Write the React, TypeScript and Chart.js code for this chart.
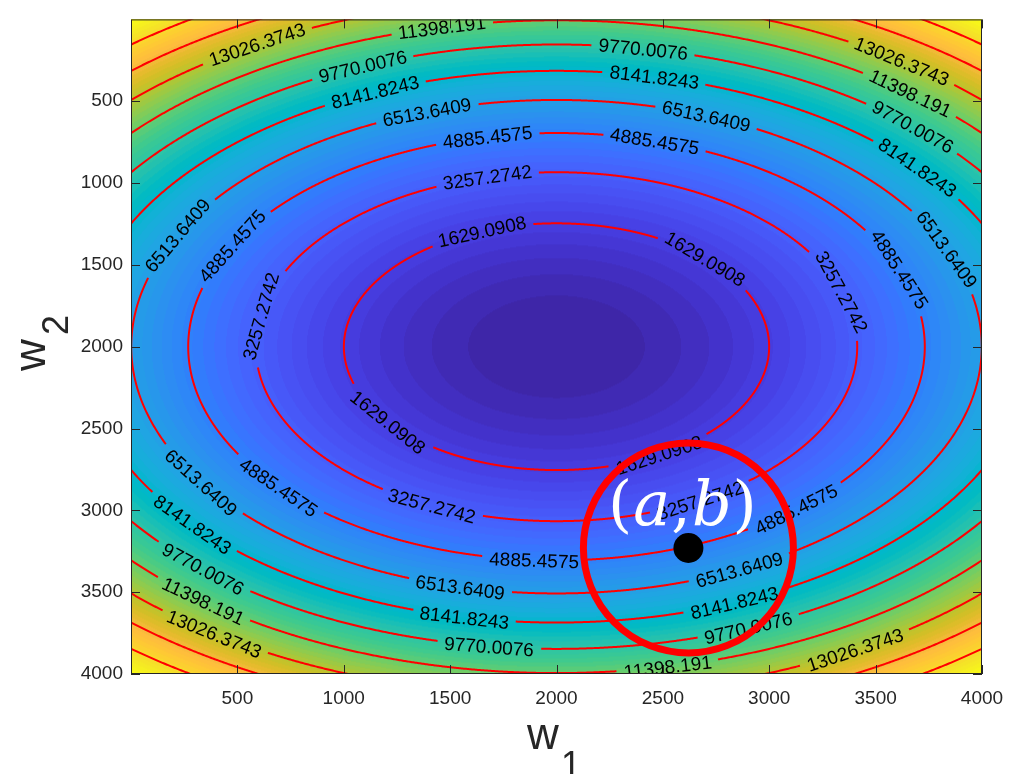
import { useEffect, useRef } from "react";
import { Chart, registerables } from "chart.js";

Chart.register(...registerables);

// Quadratic cost surface  J(w1, w2) = J_MIN + K1·(w1 − W1_OPT)² + K2·(w2 − W2_OPT)²
const W1_OPT = 2000;
const W2_OPT = 2000;
const J_MIN = 0.9074;
const K1 = 0.00163;
const K2 = 0.002865;

// Axis ranges and ticks
const W1_RANGE = [0, 4000];
const W2_RANGE = [0, 4000];
const W1_TICKS = [500, 1000, 1500, 2000, 2500, 3000, 3500, 4000];
const W2_TICKS = [500, 1000, 1500, 2000, 2500, 3000, 3500, 4000];

// Contour levels (red iso-lines)
const LEVELS = [
  1629.0908, 3257.2742, 4885.4575, 6513.6409, 8141.8243, 9770.0076, 11398.191,
  13026.3743, 14654.5577, 16282.741,
];

// The highlighted point (a, b)
const POINT_AB = [2620, 3230];

// Where each level's inline labels sit (w1, w2), one list per level
const LABEL_SPOTS: number[][][] = [
  [[1654, 1317], [2684, 1497], [1226, 2432], [2472, 2624]],
  [[1677, 987], [3324, 1677], [643, 1827], [1414, 2966], [2675, 2936]],
  [[1677, 724], [2463, 748], [473, 1383], [3601, 1539], [722, 2804], [1898, 3146], [3098, 2924]],
  [[1390, 574], [2703, 598], [233, 1335], [3827, 1413], [337, 2822], [1546, 3469], [2863, 3373]],
  [[1151, 454], [2458, 358], [3695, 909], [290, 3086], [1569, 3613], [2839, 3571]],
  [[1089, 298], [2406, 184], [3672, 658], [346, 3343], [1687, 3793], [2900, 3715]],
  [[1461, 46], [3662, 454], [346, 3541], [2524, 3973]],
  [[595, 160], [3620, 256], [393, 3745], [3404, 3853]],
  [],
  [],
];

// parula, 64 entries
const PARULA = [
  [0.2422, 0.1504, 0.6603], [0.2504, 0.165, 0.7076], [0.2578, 0.1818, 0.7511], [0.2647, 0.1978, 0.7952],
  [0.2706, 0.2147, 0.8364], [0.2751, 0.2342, 0.871], [0.2783, 0.2559, 0.8991], [0.2803, 0.2782, 0.9221],
  [0.2813, 0.3006, 0.9414], [0.281, 0.3228, 0.9579], [0.2795, 0.3447, 0.9717], [0.276, 0.3667, 0.9829],
  [0.2699, 0.3892, 0.9906], [0.2602, 0.4123, 0.9952], [0.244, 0.4358, 0.9988], [0.2206, 0.4603, 0.9973],
  [0.1963, 0.4847, 0.9892], [0.1834, 0.5074, 0.9798], [0.1786, 0.5289, 0.9682], [0.1764, 0.5499, 0.952],
  [0.1687, 0.5703, 0.9359], [0.154, 0.5902, 0.9218], [0.146, 0.6091, 0.9079], [0.138, 0.6276, 0.8973],
  [0.1248, 0.6459, 0.8883], [0.1113, 0.6635, 0.8763], [0.0952, 0.6798, 0.8598], [0.0689, 0.6948, 0.8394],
  [0.0297, 0.7082, 0.8163], [0.0036, 0.7203, 0.7917], [0.0067, 0.7312, 0.766], [0.0433, 0.7411, 0.7394],
  [0.0964, 0.75, 0.712], [0.1408, 0.7584, 0.6842], [0.1717, 0.767, 0.6554], [0.1938, 0.7758, 0.6251],
  [0.2161, 0.7843, 0.5923], [0.247, 0.7918, 0.5567], [0.2906, 0.7973, 0.5188], [0.3406, 0.8008, 0.4789],
  [0.3909, 0.8029, 0.4354], [0.4456, 0.8024, 0.3909], [0.5044, 0.7993, 0.348], [0.5616, 0.7942, 0.3045],
  [0.6174, 0.7876, 0.2612], [0.672, 0.7793, 0.2227], [0.7242, 0.7698, 0.191], [0.7738, 0.7598, 0.1646],
  [0.8203, 0.7498, 0.1535], [0.8634, 0.7406, 0.1596], [0.9035, 0.733, 0.1774], [0.9393, 0.7288, 0.21],
  [0.9728, 0.7298, 0.2394], [0.9956, 0.7434, 0.2371], [0.997, 0.7659, 0.2199], [0.9952, 0.7893, 0.2028],
  [0.9892, 0.8136, 0.1885], [0.9786, 0.8386, 0.1766], [0.9676, 0.8639, 0.1643], [0.961, 0.889, 0.1537],
  [0.9597, 0.9135, 0.1423], [0.9628, 0.9373, 0.1265], [0.9691, 0.9606, 0.1064], [0.9769, 0.9839, 0.0805],
];

const SANS = '"Liberation Sans", Arial, Helvetica, sans-serif';
const AXIS_INK = "#262626";
const LABEL_PX = 19;
const TICK_LEN = 9;

const costAt = (w1: number, w2: number) =>
  J_MIN + K1 * (w1 - W1_OPT) ** 2 + K2 * (w2 - W2_OPT) ** 2;

// Filled colour map plus labelled contour lines, painted under the datasets
const surfacePlugin = {
  id: "costSurface",
  beforeDatasetsDraw(chart: any) {
    const { ctx, chartArea: a } = chart;
    const xs = chart.scales.x;
    const ys = chart.scales.y;
    const w = Math.round(a.right - a.left);
    const h = Math.round(a.bottom - a.top);

    const zMin = J_MIN;
    const zMax = Math.max(
      costAt(W1_RANGE[0], W2_RANGE[0]),
      costAt(W1_RANGE[1], W2_RANGE[0]),
      costAt(W1_RANGE[0], W2_RANGE[1]),
      costAt(W1_RANGE[1], W2_RANGE[1])
    );
    const nColors = PARULA.length;

    const off = document.createElement("canvas");
    off.width = w;
    off.height = h;
    const octx = off.getContext("2d")!;
    const img = octx.createImageData(w, h);
    const colVals = new Float64Array(w);
    const rowVals = new Float64Array(h);
    for (let i = 0; i < w; i++) colVals[i] = xs.getValueForPixel(a.left + i + 0.5);
    for (let j = 0; j < h; j++) rowVals[j] = ys.getValueForPixel(a.top + j + 0.5);
    for (let j = 0; j < h; j++) {
      for (let i = 0; i < w; i++) {
        const f = costAt(colVals[i], rowVals[j]);
        let k = Math.floor(((f - zMin) / (zMax - zMin)) * nColors);
        k = Math.max(0, Math.min(nColors - 1, k));
        const c = PARULA[k];
        const p = (j * w + i) * 4;
        img.data[p] = Math.round(c[0] * 255);
        img.data[p + 1] = Math.round(c[1] * 255);
        img.data[p + 2] = Math.round(c[2] * 255);
        img.data[p + 3] = 255;
      }
    }
    octx.putImageData(img, 0, 0);
    ctx.drawImage(off, a.left, a.top);

    // contour lines with inline labels
    ctx.save();
    ctx.beginPath();
    ctx.rect(a.left, a.top, a.right - a.left, a.bottom - a.top);
    ctx.clip();
    ctx.font = `${LABEL_PX}px ${SANS}`;
    const N = 3000;
    LEVELS.forEach((level, li) => {
      const rx = Math.sqrt((level - J_MIN) / K1);
      const ry = Math.sqrt((level - J_MIN) / K2);
      const px: number[] = [];
      const py: number[] = [];
      for (let i = 0; i <= N; i++) {
        const t = (2 * Math.PI * i) / N;
        px.push(xs.getPixelForValue(W1_OPT + rx * Math.cos(t)));
        py.push(ys.getPixelForValue(W2_OPT + ry * Math.sin(t)));
      }
      const cum = [0];
      for (let i = 1; i <= N; i++) {
        cum.push(cum[i - 1] + Math.hypot(px[i] - px[i - 1], py[i] - py[i - 1]));
      }
      const L = cum[N];
      const pointAt = (s: number) => {
        s = ((s % L) + L) % L;
        let lo = 0;
        let hi = N;
        while (hi - lo > 1) {
          const m = (lo + hi) >> 1;
          if (cum[m] <= s) lo = m;
          else hi = m;
        }
        const seg = cum[lo + 1] - cum[lo] || 1;
        const u = (s - cum[lo]) / seg;
        return { x: px[lo] + (px[lo + 1] - px[lo]) * u, y: py[lo] + (py[lo + 1] - py[lo]) * u };
      };
      const text = String(level);
      const tw = ctx.measureText(text).width;
      const labels = (LABEL_SPOTS[li] || []).map(([u, v]) => {
        const ax = xs.getPixelForValue(u);
        const ay = ys.getPixelForValue(v);
        let best = 0;
        let bd = Infinity;
        for (let i = 0; i < N; i++) {
          const d = (px[i] - ax) ** 2 + (py[i] - ay) ** 2;
          if (d < bd) {
            bd = d;
            best = i;
          }
        }
        return { s: cum[best], h: tw / 2 + 7 };
      });
      const circDist = (s1: number, s2: number) => {
        const d = Math.abs(s1 - s2) % L;
        return Math.min(d, L - d);
      };

      ctx.strokeStyle = "#ff0000";
      ctx.lineWidth = 2;
      ctx.lineJoin = "round";
      ctx.beginPath();
      let pen = false;
      for (let i = 0; i < N; i++) {
        const mid = (cum[i] + cum[i + 1]) / 2;
        if (labels.some((l) => circDist(mid, l.s) < l.h)) {
          pen = false;
          continue;
        }
        if (!pen) {
          ctx.moveTo(px[i], py[i]);
          pen = true;
        }
        ctx.lineTo(px[i + 1], py[i + 1]);
      }
      ctx.stroke();

      ctx.fillStyle = "#000000";
      ctx.textAlign = "center";
      ctx.textBaseline = "alphabetic";
      labels.forEach((l) => {
        const p = pointAt(l.s);
        const p0 = pointAt(l.s - l.h);
        const p1 = pointAt(l.s + l.h);
        let ang = Math.atan2(p1.y - p0.y, p1.x - p0.x);
        if (ang > Math.PI / 2) ang -= Math.PI;
        if (ang < -Math.PI / 2) ang += Math.PI;
        ctx.save();
        ctx.translate(p.x, p.y);
        ctx.rotate(ang);
        ctx.fillText(text, 0, LABEL_PX * 0.36);
        ctx.restore();
      });
    });
    ctx.restore();
  },
};

// "(a,b)" annotation above the marked point
const pointLabelPlugin = {
  id: "pointLabel",
  afterDatasetsDraw(chart: any) {
    const { ctx } = chart;
    const cx = chart.scales.x.getPixelForValue(POINT_AB[0]);
    const cy = chart.scales.y.getPixelForValue(POINT_AB[1]);
    const size = 62;
    const parts: [string, boolean][] = [["(", false], ["a", true], [",", false], ["b", true], [")", false]];
    const fontOf = (it: boolean) => `${it ? "italic " : ""}${size}px "DejaVu Serif", "Liberation Serif", serif`;
    ctx.save();
    ctx.fillStyle = "#ffffff";
    ctx.textBaseline = "alphabetic";
    ctx.textAlign = "left";
    const gap = 1;
    let total = 0;
    const widths = parts.map(([t, it]) => {
      ctx.font = fontOf(it);
      const wd = ctx.measureText(t).width + gap;
      total += wd;
      return wd;
    });
    total -= gap;
    let x = cx - 6 - total / 2;
    const base = cy - 23;
    parts.forEach(([t, it], i) => {
      ctx.font = fontOf(it);
      ctx.fillText(t, x, base);
      x += widths[i];
    });
    ctx.restore();
  },
};

// Axes box, inward ticks on all four sides, and the axis titles
const framePlugin = {
  id: "frame",
  afterDraw(chart: any) {
    const { ctx, chartArea: a } = chart;
    const xs = chart.scales.x;
    const ys = chart.scales.y;
    ctx.save();
    ctx.strokeStyle = AXIS_INK;
    ctx.lineWidth = 1;
    ctx.strokeRect(a.left + 0.5, a.top + 0.5, a.right - a.left - 1, a.bottom - a.top - 1);
    ctx.beginPath();
    W1_TICKS.forEach((v) => {
      const x = Math.round(xs.getPixelForValue(v)) + 0.5;
      ctx.moveTo(x, a.bottom);
      ctx.lineTo(x, a.bottom - TICK_LEN);
      ctx.moveTo(x, a.top);
      ctx.lineTo(x, a.top + TICK_LEN);
    });
    W2_TICKS.forEach((v) => {
      const y = Math.round(ys.getPixelForValue(v)) + 0.5;
      ctx.moveTo(a.left, y);
      ctx.lineTo(a.left + TICK_LEN, y);
      ctx.moveTo(a.right, y);
      ctx.lineTo(a.right - TICK_LEN, y);
    });
    ctx.stroke();

    ctx.fillStyle = AXIS_INK;
    ctx.textAlign = "left";
    ctx.textBaseline = "alphabetic";
    // w_1 under the x axis
    ctx.font = `44px ${SANS}`;
    ctx.fillText("w", 527, 749);
    ctx.font = `36px ${SANS}`;
    ctx.fillText("1", 561, 777);
    // w_2 beside the y axis, reading upwards
    ctx.translate(45, 371);
    ctx.rotate(-Math.PI / 2);
    ctx.font = `44px ${SANS}`;
    ctx.fillText("w", 0, 0);
    ctx.font = `36px ${SANS}`;
    ctx.fillText("2", 36, 23);
    ctx.restore();
  },
};

export default function App() {
  const ref = useRef<HTMLCanvasElement>(null);

  useEffect(() => {
    const tickFont = { family: SANS, size: LABEL_PX };
    const chart = new Chart(ref.current!, {
      type: "scatter",
      data: {
        datasets: [
          {
            data: [{ x: POINT_AB[0], y: POINT_AB[1] }],
            pointRadius: 15,
            pointHoverRadius: 15,
            pointBackgroundColor: "#000000",
            pointBorderColor: "#000000",
            pointBorderWidth: 0,
          },
          {
            data: [{ x: POINT_AB[0], y: POINT_AB[1] }],
            pointRadius: 105,
            pointHoverRadius: 105,
            pointBackgroundColor: "rgba(0,0,0,0)",
            pointBorderColor: "#ff0000",
            pointBorderWidth: 7,
            pointHoverBorderWidth: 7,
          },
        ],
      },
      options: {
        animation: false,
        responsive: false,
        events: [],
        layout: { autoPadding: false, padding: { left: 0, top: 7, right: 43, bottom: 0 } },
        plugins: { legend: { display: false }, tooltip: { enabled: false } },
        scales: {
          x: {
            type: "linear",
            min: W1_RANGE[0],
            max: W1_RANGE[1],
            grid: { display: false, drawTicks: false },
            border: { display: false },
            ticks: {
              color: AXIS_INK,
              font: tickFont,
              padding: 13,
              maxRotation: 0,
              autoSkip: false,
              callback: (v: any) => String(v),
            },
            afterBuildTicks: (s: any) => {
              s.ticks = W1_TICKS.map((v) => ({ value: v }));
            },
            afterFit: (s: any) => {
              s.height = 100;
            },
          },
          y: {
            type: "linear",
            reverse: true,
            min: W2_RANGE[0],
            max: W2_RANGE[1],
            grid: { display: false, drawTicks: false },
            border: { display: false },
            ticks: {
              color: AXIS_INK,
              font: tickFont,
              padding: 8,
              autoSkip: false,
              callback: (v: any) => String(v),
            },
            afterBuildTicks: (s: any) => {
              s.ticks = W2_TICKS.map((v) => ({ value: v }));
            },
            afterFit: (s: any) => {
              s.width = 131;
            },
          },
        },
      },
      plugins: [surfacePlugin, pointLabelPlugin, framePlugin],
    } as any);
    return () => chart.destroy();
  }, []);

  return (
    <div style={{ position: "absolute", left: 0, top: 0, width: 1025, height: 774, background: "#ffffff" }}>
      <canvas ref={ref} width={1025} height={774} style={{ display: "block", width: 1025, height: 774 }} />
    </div>
  );
}
